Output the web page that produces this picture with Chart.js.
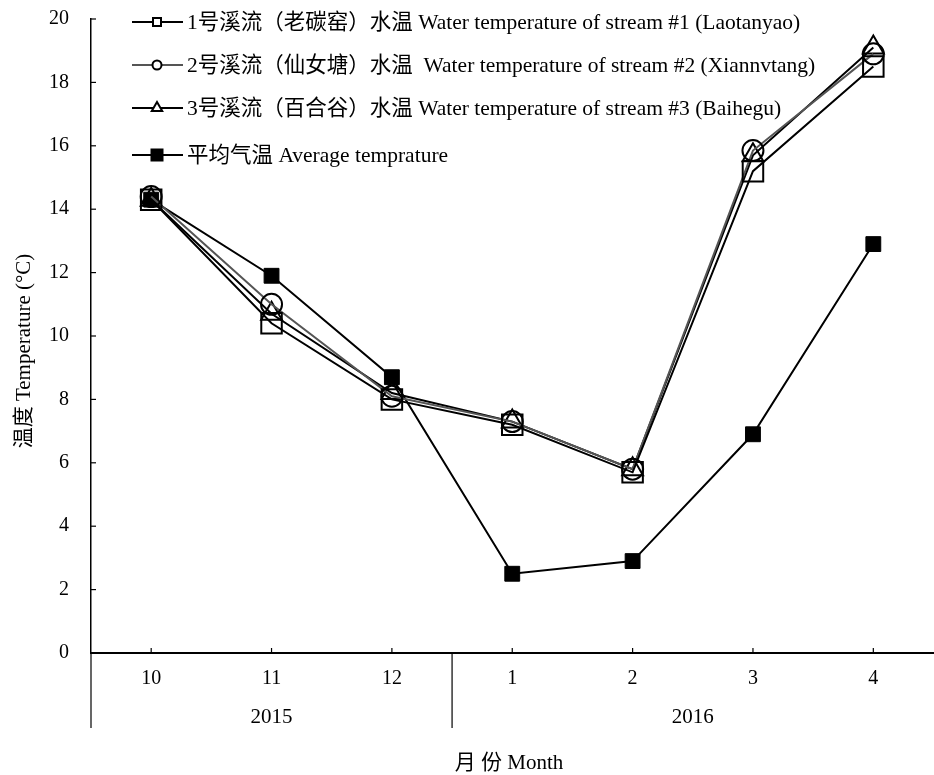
<!DOCTYPE html>
<html>
<head>
<meta charset="utf-8">
<script src="https://cdn.jsdelivr.net/npm/chart.js@4"></script>
<style>
  html, body { margin: 0; padding: 0; overflow: hidden; background: #fff; }
</style>
</head>
<body>
<canvas id="c" width="950" height="775"></canvas>
<script>
// 月份与年份
const months = ['10', '11', '12', '1', '2', '3', '4'];
const years = ['2015', '2016'];
const monthsPerYear = [3, 4];

// 温度数据 (°C)
const stream1 = [14.3, 10.4, 8.0, 7.2, 5.7, 15.2, 18.5];
const stream2 = [14.4, 11.0, 8.1, 7.3, 5.8, 15.85, 18.9];
const stream3 = [14.3, 10.7, 8.2, 7.3, 5.8, 15.7, 19.1];
const airTemp = [14.3, 11.9, 8.7, 2.5, 2.9, 6.9, 12.9];

const seriesLabels = [
    '1号溪流（老碳窑）水温 Water temperature of stream #1 (Laotanyao)',
    '2号溪流（仙女塘）水温  Water temperature of stream #2 (Xiannvtang)',
    '3号溪流（百合谷）水温 Water temperature of stream #3 (Baihegu)',
    '平均气温 Average temprature'
];

const yMin = 0, yMax = 20, yStep = 2;

const FONT = "'Liberation Serif', 'Noto Sans CJK SC', serif";

// 画图例和分组轴用的小工具
function drawMarker(ctx, style, x, y, r, filled) {
    ctx.save();
    ctx.lineWidth = 2;
    ctx.strokeStyle = '#000';
    ctx.fillStyle = filled ? '#000' : '#fff';
    ctx.beginPath();
    if (style === 'circle') {
        ctx.arc(x, y, r, 0, Math.PI * 2);
    } else if (style === 'triangle') {
        ctx.moveTo(x, y - r);
        ctx.lineTo(x + r * 0.87, y + r * 0.5);
        ctx.lineTo(x - r * 0.87, y + r * 0.5);
        ctx.closePath();
    } else {
        ctx.rect(x - r, y - r, 2 * r, 2 * r);
    }
    ctx.fill();
    ctx.stroke();
    ctx.restore();
}

const decorPlugin = {
    id: 'decor',
    afterDraw(chart) {
        const ctx = chart.ctx;
        const xs = chart.scales.x;
        const ys = chart.scales.y;
        const area = chart.chartArea;

        ctx.save();
        ctx.strokeStyle = '#000';
        ctx.lineWidth = 1.2;

        // 刻度线朝内
        months.forEach((m, i) => {
            const px = xs.getPixelForValue(i);
            ctx.beginPath();
            ctx.moveTo(px, area.bottom);
            ctx.lineTo(px, area.bottom - 5);
            ctx.stroke();
        });
        for (let v = yMin; v <= yMax; v += yStep) {
            const py = ys.getPixelForValue(v);
            ctx.beginPath();
            ctx.moveTo(area.left, py);
            ctx.lineTo(area.left + 5, py);
            ctx.stroke();
        }

        // 年份分组
        const step = xs.getPixelForValue(1) - xs.getPixelForValue(0);
        let start = xs.getPixelForValue(0) - step / 2;
        ctx.font = '21px ' + FONT;
        ctx.fillStyle = '#000';
        ctx.textAlign = 'center';
        ctx.textBaseline = 'middle';
        years.forEach((yr, k) => {
            const end = start + monthsPerYear[k] * step;
            ctx.beginPath();
            ctx.moveTo(start, area.bottom);
            ctx.lineTo(start, area.bottom + 75);
            ctx.stroke();
            ctx.fillText(yr, (start + end) / 2, area.bottom + 64);
            start = end;
        });

        // 轴标题
        ctx.font = '21px ' + FONT;
        ctx.fillText('月 份 Month', 509, 763);
        ctx.save();
        ctx.translate(24, 351);
        ctx.rotate(-Math.PI / 2);
        ctx.fillText('温度 Temperature (°C)', 0, 0);
        ctx.restore();

        // 图例
        const styles = ['rect', 'circle', 'triangle', 'rect'];
        const fills = [false, false, false, true];
        const colors = ['#000', '#555', '#000', '#000'];
        const sizes = [4, 4.5, 6, 5.5];
        const rowY = [22, 65, 108, 155];
        ctx.textAlign = 'left';
        ctx.font = '21.5px ' + FONT;
        seriesLabels.forEach((lab, i) => {
            ctx.strokeStyle = colors[i];
            ctx.lineWidth = 2;
            ctx.beginPath();
            ctx.moveTo(132, rowY[i]);
            ctx.lineTo(183, rowY[i]);
            ctx.stroke();
            drawMarker(ctx, styles[i], 157, rowY[i], sizes[i], fills[i]);
            ctx.fillStyle = '#000';
            ctx.fillText(lab, 187, rowY[i] + 1);
        });
        ctx.restore();
    }
};

new Chart(document.getElementById('c').getContext('2d'), {
    type: 'line',
    data: {
        labels: months,
        datasets: [
            {
                label: seriesLabels[0],
                data: stream1,
                borderColor: '#000',
                borderWidth: 2,
                pointStyle: 'rect',
                pointRadius: 14.5,
                pointBorderWidth: 2,
                pointBorderColor: '#000',
                pointBackgroundColor: 'rgba(255,255,255,0)'
            },
            {
                label: seriesLabels[1],
                data: stream2,
                borderColor: '#555',
                borderWidth: 2,
                pointStyle: 'circle',
                pointRadius: 10.5,
                pointBorderWidth: 2,
                pointBorderColor: '#000',
                pointBackgroundColor: 'rgba(255,255,255,0)'
            },
            {
                label: seriesLabels[2],
                data: stream3,
                borderColor: '#000',
                borderWidth: 2,
                pointStyle: 'triangle',
                pointRadius: 12,
                pointBorderWidth: 2,
                pointBorderColor: '#000',
                pointBackgroundColor: 'rgba(255,255,255,0)'
            },
            {
                label: seriesLabels[3],
                data: airTemp,
                borderColor: '#000',
                borderWidth: 2,
                pointStyle: 'rect',
                pointRadius: 10.5,
                pointBorderWidth: 1,
                pointBorderColor: '#000',
                pointBackgroundColor: '#000'
            }
        ]
    },
    options: {
        responsive: false,
        animation: false,
        layout: { padding: { left: 0, top: 19, right: 8, bottom: 0 } },
        elements: { line: { tension: 0 } },
        plugins: {
            legend: { display: false },
            tooltip: { enabled: false }
        },
        scales: {
            x: {
                type: 'category',
                offset: true,
                grid: { display: false },
                border: { display: true, color: '#000', width: 2 },
                ticks: { color: '#000', font: { family: FONT, size: 20 }, padding: 6, maxRotation: 0 },
                afterFit(scale) { scale.height = 122; }
            },
            y: {
                min: yMin,
                max: yMax,
                grid: { display: false },
                border: { display: true, color: '#000', width: 1.5 },
                ticks: { stepSize: yStep, color: '#000', font: { family: FONT, size: 20 }, padding: 14 },
                afterFit(scale) {
                    scale.width = 91;
                    scale.paddingTop = 4;
                    scale.paddingBottom = 4;
                }
            }
        }
    },
    plugins: [decorPlugin]
});
</script>
</body>
</html>
